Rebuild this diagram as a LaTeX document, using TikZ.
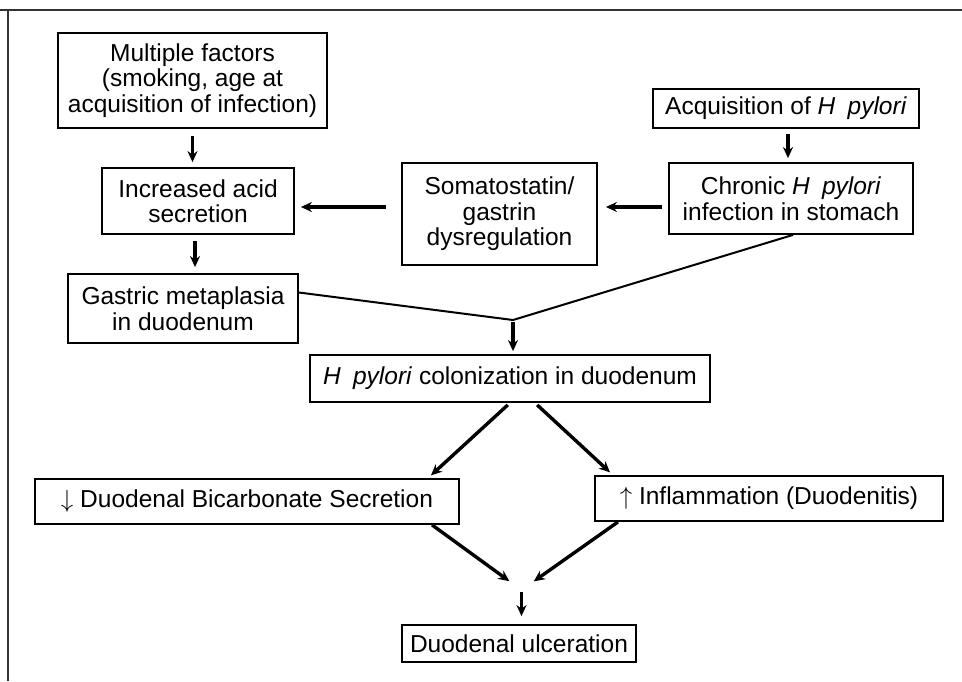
\documentclass[tikz,border=0pt]{standalone}
\usepackage{fontspec}
\setmainfont{Liberation Sans}
\usetikzlibrary{arrows.meta,calc}

\begin{document}
\begin{tikzpicture}[x=1pt, y=-1pt,
    box/.style={draw, line width=1.8pt, align=center, inner sep=0pt, font=\fontsize{24.5}{25.5}\selectfont},
    arr/.style={line width=3.4pt, -{Stealth[length=11pt,width=10pt]}},
    joinline/.style={line width=2pt}]

    %Frame
    \useasboundingbox (0,0) rectangle (962,681);
    \draw[line width=2.4pt, black!80] (0,10) -- (962,10); %Top line
    \draw[line width=2.4pt, black!80] (8,10) -- (8,681);  %Left line

    %Left column
    \node[box, minimum width=269pt, minimum height=95pt] (mult) at (192.5,80.5) {Multiple factors\\(smoking, age at\\acquisition of infection)};
    \node[box, minimum width=192pt, minimum height=66pt] (acid) at (198,201) {Increased acid\\secretion};
    \node[box, minimum width=230pt, minimum height=69pt] (meta) at (183,308.5) {Gastric metaplasia\\in duodenum};

    %Middle and right column
    \node[box, minimum width=195pt, minimum height=102pt] (soma) at (499.5,214) {Somatostatin/\\gastrin\\dysregulation};
    \node[box, minimum width=266pt, minimum height=39pt] (acq) at (786,108.5) {Acquisition of \textit{H}\enspace\textit{pylori}};
    \node[box, minimum width=244pt, minimum height=71pt] (chron) at (791,198.5) {Chronic \textit{H}\enspace\textit{pylori}\\infection in stomach};

    %Lower part
    \node[box, minimum width=400pt, minimum height=47pt] (colon) at (510,378.5) {\textit{H}\enspace\textit{pylori} colonization in duodenum};
    \node[box, minimum width=424pt, minimum height=45pt] (bicarb) at (247,501.5) {$\downarrow$ Duodenal Bicarbonate Secretion};
    \node[box, minimum width=348pt, minimum height=45pt] (infl) at (769,498.5) {$\uparrow$ Inflammation (Duodenitis)};
    \node[box, minimum width=234pt, minimum height=37pt] (ulcer) at (519,643.5) {Duodenal ulceration};

    %Short arrows at the top
    \draw[arr, shorten <=7pt, shorten >=5pt] (mult.south) -- (mult.south |- acid.north); %Factors down
    \draw[arr, shorten <=6pt, shorten >=6pt] ([xshift=-3pt]acid.south) -- ([xshift=-3pt]acid.south |- meta.north); %Acid down
    \draw[arr, shorten <=5pt, shorten >=4pt] ([xshift=2pt]acq.south) -- ([xshift=2pt]acq.south |- chron.north); %Acquisition down
    \draw[arr, shorten <=15pt, shorten >=6pt] ([yshift=-6pt]acid.east -| soma.west) -- ([yshift=-6pt]acid.east); %Soma left
    \draw[arr, shorten <=6pt, shorten >=8pt] ([yshift=-8.5pt]chron.west) -- ([yshift=-8.5pt]chron.west -| soma.east); %Chronic left

    %Lines meeting above colonization
    \coordinate (join1) at (513,320);
    \draw[joinline] ([yshift=16pt]meta.east) -- (join1) -- ([xshift=2pt]chron.south);
    \draw[arr, shorten <=2pt, shorten >=3pt] (join1) -- (join1 |- colon.north); %Into colonization

    %Split
    \draw[arr, shorten <=3pt, shorten >=4pt] (colon.south) -- ([xshift=181pt]bicarb.north); %Left down
    \draw[arr, shorten <=3pt, shorten >=4pt] ([xshift=25pt]colon.south) -- ([xshift=-156pt]infl.north); %Right down

    %Merge into ulceration
    \coordinate (join2) at (521.5,590);
    \draw[arr, shorten >=15pt] ([xshift=185pt]bicarb.south) -- (join2); %From left
    \draw[arr, shorten >=15pt] ([xshift=-151pt]infl.south) -- (join2);  %From right
    \draw[arr, shorten <=2pt, shorten >=8pt] (join2) -- (join2 |- ulcer.north); %Last arrow

\end{tikzpicture}
\end{document}
